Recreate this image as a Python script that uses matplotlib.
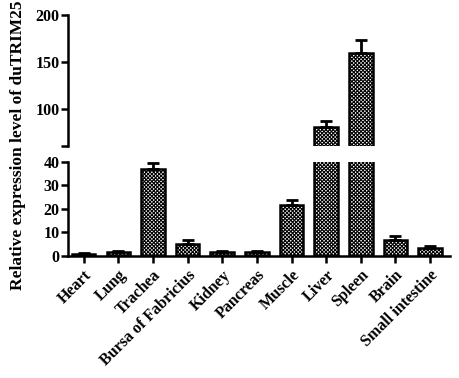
import matplotlib.pyplot as plt
import numpy as np
import matplotlib as mpl

mpl.rcParams['font.family'] = ['Liberation Serif', 'DejaVu Serif']
mpl.rcParams['font.weight'] = 'bold'
mpl.rcParams['hatch.linewidth'] = 0.8

tissues = ["Heart", "Lung", "Trachea", "Bursa of Fabricius", "Kidney", "Pancreas",
           "Muscle", "Liver", "Spleen", "Brain", "Small intestine"]
values = [1.0, 1.8, 37.0, 5.1, 1.5, 1.5, 21.7, 81.0, 159.5, 7.0, 3.3]
errors = [0.3, 0.3, 2.6, 1.6, 0.6, 0.6, 2.1, 6.2, 14.0, 1.6, 0.8]

fig = plt.figure(figsize=(4.6, 3.78), dpi=100)
ax_lo = fig.add_axes([0.148, 0.3228, 0.83, 0.2487])
ax_hi = fig.add_axes([0.148, 0.6138, 0.83, 0.3466])

x = np.arange(len(tissues))
bar_opts = dict(width=0.68, color="white", edgecolor="black", linewidth=1.8,
                hatch="xxxxxxxxx", zorder=2)
err_opts = dict(fmt="none", ecolor="black", elinewidth=2, capsize=4.5, capthick=2, zorder=3)
yerr = [np.zeros(len(errors)), errors]

for ax in (ax_lo, ax_hi):
    ax.bar(x, values, **bar_opts)
    ax.errorbar(x, values, yerr=yerr, **err_opts)
    ax.set_xlim(-0.45, 10.57)
    for s in ("top", "right"):
        ax.spines[s].set_visible(False)
    for s in ("left", "bottom"):
        ax.spines[s].set_linewidth(1.8)
    ax.tick_params(width=1.8, length=5, labelsize=11.5, pad=1)

ax_lo.set_ylim(0, 40)
ax_lo.set_yticks([0, 10, 20, 30, 40])
ax_lo.set_xticks(x)
ax_lo.set_xticklabels(tissues, rotation=45, ha="right", rotation_mode="anchor",
                      fontsize=11.5, weight="bold")
ax_lo.tick_params(axis="x", pad=3)

ax_hi.set_ylim(61, 200)
ax_hi.set_yticks([100, 150, 200])
ax_hi.set_yticks([61], minor=True)
ax_hi.tick_params(axis="y", which="minor", width=1.8, length=5)
ax_hi.spines["bottom"].set_visible(False)
ax_hi.set_xticks([])

for ax in (ax_lo, ax_hi):
    for lab in ax.get_yticklabels():
        lab.set_fontweight("bold")

fig.text(0.039, 0.615, "Relative expression level of duTRIM25", rotation=90,
         ha="center", va="center", fontsize=12.5, weight="bold")

fig.savefig("out.png", dpi=100)
